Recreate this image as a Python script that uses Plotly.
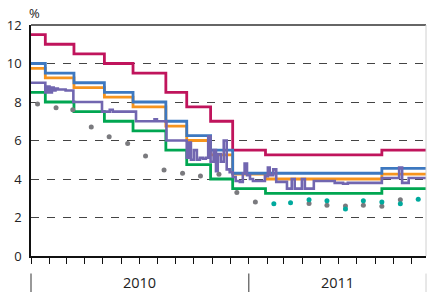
import plotly.graph_objects as go
import pandas as pd

X_START = "2010-01-01"
X_END = "2011-10-25"

# Policy / step series (date of change, level)
step_dates = ["2010-01-01", "2010-01-25", "2010-03-14", "2010-05-04", "2010-06-21",
              "2010-08-15", "2010-09-19", "2010-10-29", "2010-12-05", "2011-01-29",
              "2011-08-12", X_END]
crimson_vals = [11.5, 11.0, 10.5, 10.0, 9.5, 8.5, 7.75, 7.0, 5.5, 5.25, 5.5, 5.5]
blue_vals = [10.0, 9.5, 9.0, 8.5, 8.0, 7.0, 6.25, 5.5, 4.3, 4.3, 4.55, 4.55]
orange_vals = [9.75, 9.25, 8.75, 8.25, 7.75, 6.75, 6.0, 5.25, 4.25, 4.0, 4.25, 4.25]
green_vals = [8.5, 8.0, 7.5, 7.0, 6.5, 5.5, 4.75, 4.0, 3.5, 3.25, 3.5, 3.5]

# Market rate (noisy series)
purple_dates = ["2010-01-01", "2010-01-25", "2010-01-29", "2010-02-01", "2010-02-05",
                "2010-02-08", "2010-02-11", "2010-02-15", "2010-02-23", "2010-02-28",
                "2010-03-13", "2010-04-30", "2010-05-13", "2010-05-18", "2010-06-26",
                "2010-07-27", "2010-07-31", "2010-08-16", "2010-09-19", "2010-09-22",
                "2010-09-26", "2010-10-01", "2010-10-06", "2010-10-11", "2010-10-16",
                "2010-10-21", "2010-10-25", "2010-10-29", "2010-11-03", "2010-11-07",
                "2010-11-10", "2010-11-15", "2010-11-20", "2010-11-25", "2010-11-30",
                "2010-12-05", "2010-12-10", "2010-12-17", "2010-12-22", "2010-12-25",
                "2010-12-29", "2011-01-03", "2011-01-08", "2011-01-16", "2011-01-28",
                "2011-02-02", "2011-02-05", "2011-02-11", "2011-02-16", "2011-03-06",
                "2011-03-14", "2011-03-19", "2011-03-31", "2011-04-05", "2011-04-20",
                "2011-05-25", "2011-06-08", "2011-06-16", "2011-08-12", "2011-09-10",
                "2011-09-15", "2011-09-26", X_END]
purple_vals = [9.0, 8.5, 8.8, 8.5, 8.75,
               8.6, 8.7, 8.65, 8.65, 8.6,
               8.0, 7.5, 7.6, 7.5, 7.0,
               7.1, 7.0, 6.0, 5.1, 5.9,
               5.0, 5.5, 5.0, 5.1, 5.05,
               5.1, 6.2, 4.9, 5.5, 4.4,
               5.3, 4.9, 6.0, 4.5, 4.35,
               4.1, 3.9, 3.85, 4.3, 4.8,
               4.2, 4.0, 3.9, 3.9, 4.15,
               4.6, 4.2, 4.5, 3.85, 3.5,
               4.0, 3.5, 4.0, 3.5, 3.9,
               3.8, 3.75, 3.8, 4.05, 4.6,
               3.8, 4.05, 4.05]

# Monthly observations (dots)
dot_dates = ["2010-01-12", "2010-02-12", "2010-03-12", "2010-04-12", "2010-05-12",
             "2010-06-12", "2010-07-12", "2010-08-12", "2010-09-12", "2010-10-12",
             "2010-11-12", "2010-12-12", "2011-01-12", "2011-02-12", "2011-03-12",
             "2011-04-12", "2011-05-12", "2011-06-12", "2011-07-12", "2011-08-12",
             "2011-09-12", "2011-10-12"]
gray_vals = [7.9, 7.7, 7.6, 6.7, 6.2, 5.85, 5.2, 4.47, 4.3, 4.15, 4.25, 3.3,
             2.8, None, None, 2.73, 2.63, 2.6, 2.63, 2.58, 2.92, None]
teal_vals = [None] * 13 + [2.71, 2.77, 2.92, 2.87, 2.44, 2.87, 2.8, 2.72, 2.95]

year_labels = ["2010", "2011"]
year_starts = ["2010-01-01", "2011-01-01"]
y_ticks = [0, 2, 4, 6, 8, 10, 12]

FONT = "Open Sans"
fig = go.Figure()

for vals, col in [(crimson_vals, "#C0145C"), (orange_vals, "#F7941D"),
                  (blue_vals, "#3D78C0"), (green_vals, "#00A651")]:
    fig.add_trace(go.Scatter(x=step_dates, y=vals, mode="lines",
                             line=dict(color=col, width=2.8, shape="hv"),
                             showlegend=False, hoverinfo="skip"))

fig.add_trace(go.Scatter(x=purple_dates, y=purple_vals, mode="lines",
                         line=dict(color="#7166B0", width=2.6, shape="hv"),
                         showlegend=False, hoverinfo="skip"))
fig.add_trace(go.Scatter(x=dot_dates, y=gray_vals, mode="markers",
                         marker=dict(color="#7A7A7E", size=5),
                         showlegend=False, hoverinfo="skip"))
fig.add_trace(go.Scatter(x=dot_dates, y=teal_vals, mode="markers",
                         marker=dict(color="#00A99D", size=5),
                         showlegend=False, hoverinfo="skip"))

t0 = pd.Timestamp(X_START)
t1 = pd.Timestamp(X_END)
def frac(d):
    return (pd.Timestamp(d) - t0) / (t1 - t0)

shapes = []
# top and right frame
shapes.append(dict(type="line", xref="paper", yref="paper", x0=0, x1=1, y0=1, y1=1,
                   line=dict(color="#333333", width=1.5)))
shapes.append(dict(type="line", xref="paper", yref="paper", x0=1, x1=1, y0=0, y1=1,
                   line=dict(color="#D0D0D0", width=1)))
# year separators
for d in year_starts:
    shapes.append(dict(type="line", xref="paper", yref="paper", x0=frac(d), x1=frac(d),
                       y0=-0.076, y1=-0.16, line=dict(color="#555555", width=1.2)))
shapes.append(dict(type="line", xref="paper", yref="paper", x0=1, x1=1,
                   y0=-0.076, y1=-0.16, line=dict(color="#D0D0D0", width=1)))

annotations = []
mids = [pd.Timestamp("2010-07-02"), t1 - (t1 - pd.Timestamp("2011-01-01")) / 2]
for lab, m in zip(year_labels, mids):
    annotations.append(dict(x=m.strftime("%Y-%m-%d"), xref="x", y=-0.1538, yref="paper",
                            text=lab, showarrow=False, xanchor="center", yanchor="bottom",
                            borderpad=0, borderwidth=0,
                            font=dict(family=FONT, size=14.5, color="#222222")))
annotations.append(dict(x=0.009, xref="paper", y=1.053, yref="paper", text="%",
                        showarrow=False, xanchor="center", yanchor="middle",
                        font=dict(family=FONT, size=13, color="#222222")))

fig.update_layout(
    width=427, height=292,
    margin=dict(l=31, r=1, t=25, b=35.6),
    paper_bgcolor="white", plot_bgcolor="white",
    font=dict(family=FONT, size=13, color="#222222"),
    shapes=shapes, annotations=annotations,
    xaxis=dict(type="date", range=[X_START, X_END], showgrid=False, zeroline=False,
               ticks="outside", ticklen=6, tickwidth=1.2, tickcolor="#111111",
               tick0="2010-01-01", dtick="M1", showticklabels=False,
               showline=True, linecolor="#111111", linewidth=1.5),
    yaxis=dict(range=[0, 12], tickvals=y_ticks, showgrid=True, gridcolor="#444444",
               griddash="8px,8px", gridwidth=1, zeroline=False, ticks="",
               showline=True, linecolor="#111111", linewidth=1.5,
               ticklabelstandoff=5, tickfont=dict(family=FONT, size=13, color="#222222")),
)

fig.write_html("out.html", config={"displayModeBar": False},
               post_script="document.body.style.margin='0';document.body.style.overflow='hidden';")
